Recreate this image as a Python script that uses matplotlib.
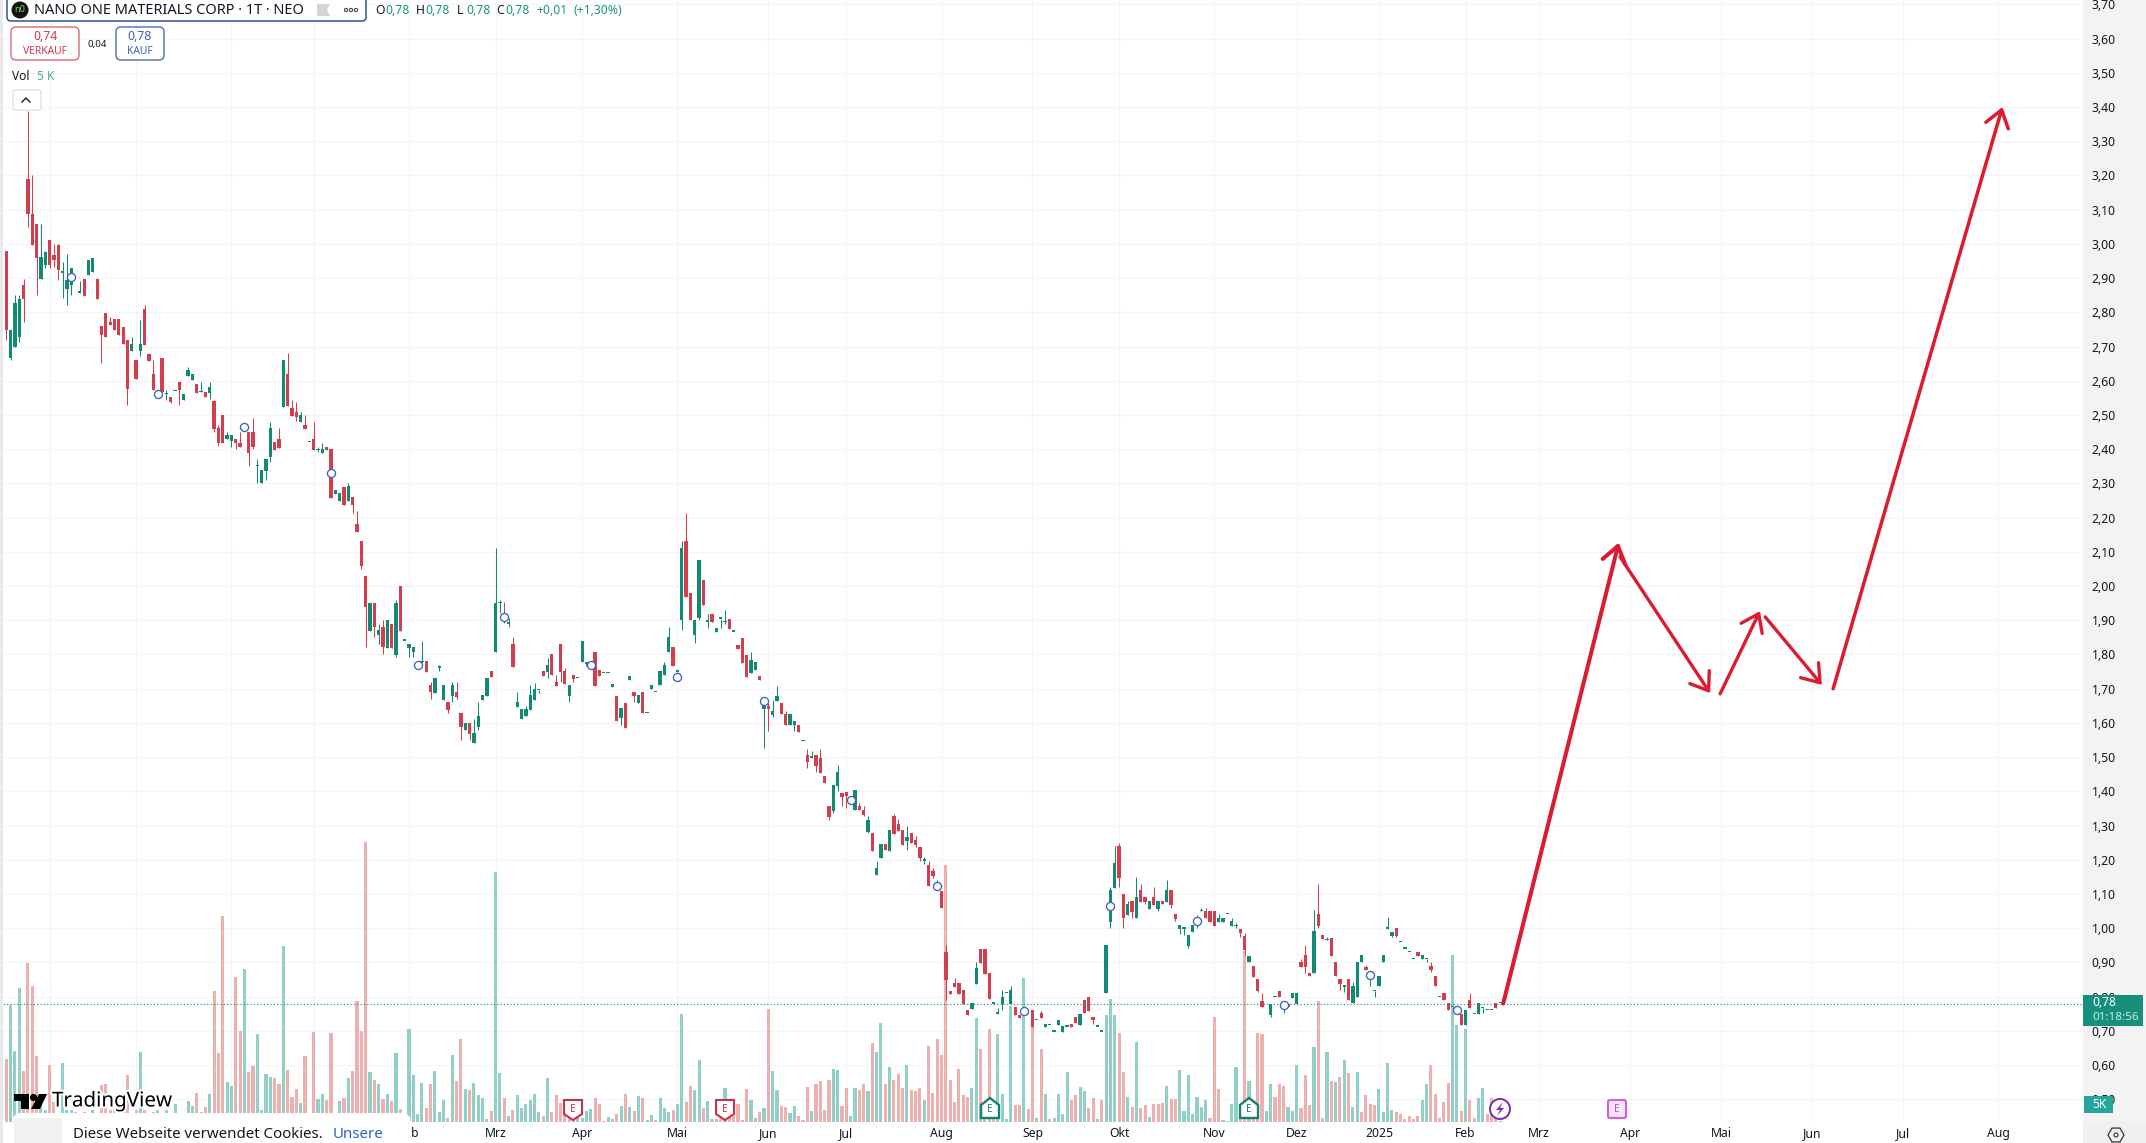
import numpy as np
import matplotlib
matplotlib.use('Agg')
import matplotlib.pyplot as plt
from matplotlib import patheffects
from matplotlib.patches import FancyBboxPatch, Rectangle, Polygon, Circle, RegularPolygon

plt.rcParams['font.family'] = ['Noto Sans', 'DejaVu Sans']

nan = float('nan')

# candles, one entry per trading day
opens = [2.978, 2.665, 2.70, 2.728, 2.879, 3.189, 3.088, 3.059, 2.898, 2.937,
         3.01, 2.966, 2.998, 2.915, 2.869, 2.879, nan, 2.857, 2.898, 2.908,
         2.918, 2.898, 2.759, 2.799, 2.772, 2.781, 2.78, 2.757, 2.718, 2.687,
         2.66, 2.687, 2.809, 2.679, 2.619, 2.56, 2.667, 2.56, 2.553, 2.57,
         2.596, 2.543, 2.613, 2.603, 2.589, 2.567, 2.567, 2.564, 2.541, 2.461,
         2.5, 2.429, 2.425, 2.429, 2.419, 2.464, 2.449, 2.449, 2.35, 2.3,
         2.337, 2.378, 2.42, 2.429, 2.522, 2.619, 2.519, 2.51, 2.478, 2.471,
         2.42, 2.429, 2.397, 2.39, 2.407, 2.4, 2.269, 2.249, 2.289, 2.249,
         2.259, 2.181, 2.132, 2.03, 1.87, 1.95, 1.857, 1.88, 1.82, 1.889,
         1.799, 2.0, 1.84, 1.82, 1.808, 1.768, 1.778, 1.78, 1.71, 1.686,
         1.761, 1.667, 1.66, 1.678, 1.689, 1.628, 1.578, 1.599, 1.541, 1.588,
         1.667, 1.68, 1.752, 1.808, 1.95, 1.91, 1.89, 1.83, 1.647, 1.611,
         1.619, 1.638, 1.667, 1.695, 1.752, 1.748, 1.801, 1.719, 1.83, 1.752,
         1.678, 1.74, 1.73, 1.779, 1.773, 1.768, 1.808, 1.756, 1.746, 1.746,
         1.705, 1.678, 1.615, 1.657, 1.726, 1.689, 1.659, 1.689, 1.628, 1.698,
         1.69, 1.71, 1.739, 1.808, 1.821, 1.75, 1.901, 2.132, 1.979, 1.857,
         1.906, 2.017, 1.896, 1.917, 1.866, 1.905, 1.894, 1.905, 1.867, 1.827,
         1.848, 1.798, 1.746, 1.754, 1.737, 1.64, 1.65, 1.622, 1.664, 1.658,
         1.625, 1.593, 1.593, 1.595, 1.547, 1.505, 1.498, 1.505, 1.498, 1.446,
         1.357, 1.344, 1.415, 1.396, 1.398, 1.376, 1.345, 1.357, 1.347, 1.282,
         1.277, 1.157, 1.206, 1.245, 1.225, 1.327, 1.306, 1.286, 1.254, 1.277,
         1.259, 1.237, 1.197, 1.186, 1.167, 1.125, 1.108, 0.932, 0.818, 0.841,
         0.841, 0.82, 0.761, 0.763, 0.837, 0.939, 0.939, 0.868, 0.78, 0.75,
         0.779, 0.81, 0.779, 0.771, 0.746, 0.759, nan, 0.761, 0.732, 0.751,
         0.71, 0.717, 0.698, 0.717, 0.698, 0.712, 0.72, 0.74, 0.717, 0.79,
         0.798, 0.742, 0.712, 0.698, 0.81, 1.019, 1.118, 1.24, 1.1, 1.039,
         1.08, 1.029, 1.112, 1.09, 1.056, 1.09, 1.056, 1.079, 1.078, 1.112,
         1.041, 0.998, 0.999, 0.949, 0.988, 1.02, 1.049, 1.05, 1.05, 1.05,
         1.019, 1.019, 1.041, 1.007, 1.006, 0.999, 0.978, 0.9, 0.891, 0.852,
         0.788, nan, 0.746, 0.798, 0.818, 0.776, 0.78, 0.797, 0.78, 0.902,
         0.922, 0.869, 0.869, 1.042, 0.981, 0.965, 0.971, 0.901, 0.851, 0.829,
         0.851, 0.781, 0.799, 0.9, 0.888, 0.865, 0.817, 0.83, 0.9, 0.999,
         0.978, 1.0, 0.959, 0.94, 0.93, 0.91, 0.93, 0.91, 0.909, 0.891,
         0.859, 0.799, 0.81, 0.781, 0.77, 0.76, 0.749, 0.718, 0.791, 0.749,
         0.749, 0.767, 0.761, 0.761, 0.781, 0.781]
highs = [2.98, 2.75, 2.85, 2.85, 2.898, 3.387, 3.20, 3.059, 3.059, 2.98,
         3.01, 3.0, 3.0, 2.947, 2.97, 2.93, nan, 2.89, 2.898, 2.952,
         2.96, 2.898, 2.76, 2.799, 2.786, 2.781, 2.78, 2.757, 2.718, 2.728,
         2.66, 2.777, 2.82, 2.679, 2.66, 2.56, 2.667, 2.572, 2.553, 2.57,
         2.596, 2.562, 2.64, 2.619, 2.589, 2.596, 2.567, 2.596, 2.545, 2.471,
         2.5, 2.449, 2.442, 2.429, 2.451, 2.464, 2.449, 2.492, 2.37, 2.339,
         2.37, 2.48, 2.42, 2.461, 2.66, 2.681, 2.545, 2.539, 2.51, 2.5,
         2.42, 2.48, 2.407, 2.419, 2.407, 2.4, 2.281, 2.271, 2.289, 2.302,
         2.259, 2.219, 2.132, 2.03, 1.95, 1.95, 1.889, 1.901, 1.901, 1.889,
         1.96, 2.0, 1.84, 1.83, 1.821, 1.768, 1.84, 1.78, 1.721, 1.73,
         1.77, 1.71, 1.66, 1.72, 1.72, 1.628, 1.599, 1.599, 1.611, 1.662,
         1.682, 1.73, 1.752, 2.111, 1.96, 1.953, 1.908, 1.85, 1.689, 1.64,
         1.65, 1.711, 1.718, 1.696, 1.752, 1.789, 1.801, 1.74, 1.83, 1.76,
         1.71, 1.74, 1.73, 1.84, 1.774, 1.768, 1.808, 1.756, 1.746, 1.746,
         1.715, 1.678, 1.644, 1.657, 1.737, 1.689, 1.682, 1.689, 1.628, 1.71,
         1.69, 1.752, 1.779, 1.881, 1.821, 1.75, 2.132, 2.213, 1.979, 1.901,
         2.076, 2.017, 1.919, 1.917, 1.878, 1.905, 1.929, 1.905, 1.867, 1.827,
         1.848, 1.798, 1.808, 1.778, 1.737, 1.67, 1.659, 1.666, 1.707, 1.658,
         1.636, 1.625, 1.607, 1.595, 1.547, 1.525, 1.519, 1.505, 1.525, 1.446,
         1.357, 1.418, 1.477, 1.396, 1.398, 1.376, 1.405, 1.366, 1.357, 1.327,
         1.277, 1.196, 1.245, 1.245, 1.286, 1.335, 1.318, 1.286, 1.298, 1.277,
         1.269, 1.237, 1.208, 1.196, 1.176, 1.14, 1.108, 0.95, 0.818, 0.854,
         0.841, 0.82, 0.761, 0.781, 0.902, 0.939, 0.939, 0.868, 0.78, 0.766,
         0.82, 0.81, 0.831, 0.771, 0.746, 0.759, nan, 0.761, 0.732, 0.759,
         0.72, 0.717, 0.698, 0.732, 0.714, 0.712, 0.72, 0.74, 0.749, 0.79,
         0.798, 0.742, 0.712, 0.698, 0.951, 1.121, 1.24, 1.248, 1.1, 1.08,
         1.08, 1.151, 1.129, 1.09, 1.079, 1.121, 1.079, 1.079, 1.141, 1.112,
         1.041, 1.009, 1.0, 0.98, 1.009, 1.04, 1.058, 1.058, 1.05, 1.05,
         1.041, 1.029, 1.041, 1.029, 1.014, 0.999, 0.987, 0.92, 0.891, 0.852,
         0.81, nan, 0.78, 0.798, 0.818, 0.776, 0.78, 0.81, 0.81, 0.91,
         0.951, 0.869, 1.052, 1.13, 0.981, 0.974, 0.971, 0.901, 0.851, 0.831,
         0.851, 0.842, 0.901, 0.922, 0.893, 0.865, 0.818, 0.861, 0.922, 1.032,
         0.989, 1.0, 0.959, 0.94, 0.93, 0.91, 0.93, 0.921, 0.91, 0.9,
         0.859, 0.799, 0.81, 0.781, 0.77, 0.76, 0.749, 0.762, 0.81, 0.749,
         0.781, 0.768, 0.761, 0.761, 0.781, 0.781]
lows = [2.718, 2.66, 2.70, 2.713, 2.772, 3.049, 2.996, 2.85, 2.898, 2.93,
        2.93, 2.932, 2.893, 2.843, 2.82, 2.85, nan, 2.855, 2.847, 2.908,
        2.918, 2.838, 2.652, 2.728, 2.762, 2.747, 2.733, 2.708, 2.529, 2.687,
        2.606, 2.671, 2.703, 2.658, 2.572, 2.56, 2.567, 2.543, 2.534, 2.57,
        2.53, 2.543, 2.613, 2.603, 2.564, 2.567, 2.553, 2.548, 2.451, 2.41,
        2.419, 2.429, 2.407, 2.4, 2.407, 2.464, 2.352, 2.4, 2.302, 2.3,
        2.31, 2.362, 2.398, 2.403, 2.522, 2.526, 2.497, 2.481, 2.478, 2.459,
        2.42, 2.398, 2.393, 2.39, 2.398, 2.258, 2.269, 2.249, 2.237, 2.249,
        2.213, 2.159, 2.049, 1.823, 1.87, 1.852, 1.831, 1.802, 1.82, 1.82,
        1.793, 1.87, 1.84, 1.793, 1.793, 1.768, 1.774, 1.75, 1.671, 1.686,
        1.752, 1.667, 1.63, 1.661, 1.67, 1.55, 1.578, 1.55, 1.541, 1.58,
        1.667, 1.68, 1.735, 1.808, 1.92, 1.891, 1.881, 1.763, 1.647, 1.611,
        1.619, 1.638, 1.667, 1.688, 1.738, 1.732, 1.739, 1.708, 1.72, 1.714,
        1.662, 1.72, 1.73, 1.779, 1.765, 1.768, 1.708, 1.737, 1.746, 1.746,
        1.705, 1.605, 1.595, 1.586, 1.726, 1.662, 1.659, 1.628, 1.628, 1.698,
        1.69, 1.71, 1.739, 1.808, 1.767, 1.733, 1.872, 1.969, 1.901, 1.833,
        1.90, 1.944, 1.878, 1.895, 1.866, 1.878, 1.888, 1.875, 1.867, 1.816,
        1.776, 1.734, 1.746, 1.754, 1.725, 1.527, 1.576, 1.617, 1.664, 1.625,
        1.593, 1.593, 1.576, 1.574, 1.547, 1.469, 1.497, 1.457, 1.454, 1.424,
        1.316, 1.337, 1.4, 1.357, 1.35, 1.376, 1.345, 1.345, 1.327, 1.279,
        1.225, 1.157, 1.206, 1.23, 1.225, 1.276, 1.284, 1.243, 1.23, 1.25,
        1.237, 1.196, 1.188, 1.123, 1.147, 1.125, 1.058, 0.79, 0.808, 0.827,
        0.808, 0.78, 0.746, 0.763, 0.837, 0.897, 0.866, 0.792, 0.78, 0.748,
        0.761, 0.81, 0.779, 0.746, 0.739, 0.759, nan, 0.712, 0.732, 0.739,
        0.71, 0.717, 0.698, 0.717, 0.698, 0.712, 0.71, 0.722, 0.717, 0.753,
        0.758, 0.72, 0.712, 0.698, 0.81, 1.0, 1.118, 1.121, 1.0, 1.039,
        1.031, 1.029, 1.078, 1.071, 1.056, 1.068, 1.051, 1.07, 1.078, 1.06,
        1.022, 0.982, 0.98, 0.941, 0.988, 1.0, 1.049, 1.029, 1.019, 1.007,
        1.019, 1.019, 1.041, 1.007, 1.0, 0.973, 0.922, 0.9, 0.858, 0.813,
        0.769, nan, 0.74, 0.798, 0.798, 0.751, 0.769, 0.797, 0.78, 0.888,
        0.87, 0.859, 0.869, 1.002, 0.969, 0.965, 0.92, 0.859, 0.82, 0.813,
        0.789, 0.781, 0.799, 0.9, 0.877, 0.832, 0.8, 0.83, 0.9, 0.999,
        0.973, 0.973, 0.959, 0.94, 0.93, 0.91, 0.92, 0.91, 0.902, 0.871,
        0.83, 0.799, 0.789, 0.76, 0.77, 0.76, 0.718, 0.718, 0.768, 0.749,
        0.749, 0.752, 0.761, 0.761, 0.768, 0.781]
closes = [2.747, 2.749, 2.828, 2.84, 2.84, 3.088, 2.996, 2.96, 2.962, 2.976,
          2.937, 2.952, 2.925, 2.92, 2.893, 2.928, nan, 2.857, 2.847, 2.952,
          2.96, 2.838, 2.735, 2.728, 2.762, 2.747, 2.733, 2.708, 2.577, 2.708,
          2.606, 2.708, 2.703, 2.658, 2.572, 2.56, 2.567, 2.562, 2.538, 2.57,
          2.572, 2.562, 2.632, 2.619, 2.564, 2.567, 2.553, 2.582, 2.458, 2.417,
          2.419, 2.442, 2.442, 2.417, 2.407, 2.464, 2.39, 2.407, 2.351, 2.339,
          2.37, 2.461, 2.398, 2.403, 2.66, 2.526, 2.497, 2.495, 2.5, 2.459,
          2.42, 2.398, 2.398, 2.401, 2.398, 2.258, 2.281, 2.271, 2.237, 2.291,
          2.237, 2.159, 2.059, 1.94, 1.95, 1.881, 1.872, 1.823, 1.901, 1.82,
          1.95, 1.87, 1.84, 1.83, 1.821, 1.768, 1.779, 1.75, 1.689, 1.73,
          1.762, 1.71, 1.638, 1.71, 1.676, 1.589, 1.599, 1.567, 1.572, 1.619,
          1.682, 1.73, 1.735, 1.95, 1.952, 1.905, 1.891, 1.763, 1.66, 1.64,
          1.64, 1.682, 1.699, 1.696, 1.738, 1.77, 1.739, 1.708, 1.75, 1.714,
          1.71, 1.728, 1.73, 1.84, 1.774, 1.768, 1.708, 1.737, 1.746, 1.746,
          1.715, 1.605, 1.644, 1.586, 1.737, 1.679, 1.682, 1.628, 1.628, 1.71,
          1.69, 1.752, 1.77, 1.85, 1.767, 1.75, 2.11, 1.969, 1.901, 1.901,
          2.076, 1.944, 1.897, 1.895, 1.878, 1.905, 1.895, 1.875, 1.867, 1.816,
          1.776, 1.734, 1.785, 1.778, 1.725, 1.665, 1.64, 1.636, 1.68, 1.625,
          1.593, 1.625, 1.607, 1.574, 1.547, 1.486, 1.498, 1.474, 1.454, 1.424,
          1.325, 1.418, 1.456, 1.384, 1.386, 1.376, 1.405, 1.345, 1.332, 1.316,
          1.225, 1.175, 1.245, 1.23, 1.286, 1.276, 1.284, 1.243, 1.266, 1.25,
          1.243, 1.206, 1.198, 1.123, 1.152, 1.125, 1.058, 0.849, 0.808, 0.827,
          0.808, 0.78, 0.746, 0.781, 0.883, 0.897, 0.866, 0.792, 0.78, 0.751,
          0.8, 0.81, 0.82, 0.746, 0.739, 0.759, nan, 0.712, 0.732, 0.739,
          0.72, 0.717, 0.698, 0.732, 0.714, 0.712, 0.71, 0.722, 0.749, 0.753,
          0.758, 0.732, 0.712, 0.698, 0.951, 1.112, 1.191, 1.146, 1.029, 1.071,
          1.048, 1.09, 1.078, 1.078, 1.079, 1.068, 1.079, 1.07, 1.112, 1.068,
          1.027, 1.009, 1.0, 0.98, 1.009, 1.02, 1.05, 1.029, 1.019, 1.007,
          1.029, 1.029, 1.041, 1.021, 1.007, 0.987, 0.936, 0.92, 0.858, 0.818,
          0.769, nan, 0.78, 0.798, 0.798, 0.776, 0.769, 0.81, 0.81, 0.888,
          0.888, 0.859, 0.991, 1.007, 0.969, 0.966, 0.92, 0.859, 0.838, 0.83,
          0.789, 0.832, 0.901, 0.922, 0.877, 0.865, 0.818, 0.861, 0.922, 1.0,
          0.989, 0.978, 0.959, 0.94, 0.93, 0.91, 0.92, 0.921, 0.91, 0.879,
          0.83, 0.799, 0.789, 0.76, 0.77, 0.76, 0.718, 0.762, 0.768, 0.749,
          0.781, 0.768, 0.761, 0.761, 0.768, 0.781]

# volume in thousands
volumes = [18.4, 34.3, 20.8, 39.5, 14.9, 46.8, 39.9, 19.3, 8.3, 3.4,
           16.7, 5.9, 2.5, 17.5, 3.4, 3.6, 3.0, 2.5, 3.0, 2.5,
           3.4, 2.5, 10.8, 11.3, 3.4, 3.4, 2.5, 3.4, 13.7, 2.5,
           3.4, 20.5, 3.4, 2.5, 3.0, 3.4, 2.5, 3.4, 2.5, 5.2,
           2.5, 2.5, 6.1, 4.6, 8.6, 2.9, 4.4, 8.1, 38.4, 20.3,
           60.6, 11.7, 10.5, 42.6, 26.7, 44.9, 14.7, 16.4, 25.8, 3.6,
           14.0, 13.1, 12.8, 11.1, 51.7, 15.2, 7.5, 9.6, 5.6, 19.3,
           2.5, 26.4, 6.9, 8.1, 6.4, 26.2, 2.5, 6.1, 7.0, 12.8,
           14.9, 35.5, 26.8, 82.5, 14.6, 12.5, 11.1, 6.7, 8.1, 6.1,
           20.2, 3.7, 1.0, 27.3, 13.7, 2.3, 11.4, 4.0, 11.1, 14.9,
           2.8, 6.4, 1.3, 19.6, 12.0, 24.3, 9.6, 9.3, 11.4, 7.8,
           7.0, 0.8, 3.1, 73.4, 14.3, 7.0, 1.7, 3.4, 7.8, 4.0,
           5.4, 6.4, 8.3, 2.8, 1.7, 12.8, 2.8, 7.8, 5.7, 4.4,
           3.4, 2.5, 1.5, 1.2, 3.1, 3.7, 7.2, 5.4, 0.3, 1.6,
           0.8, 2.3, 4.6, 8.3, 4.4, 3.1, 7.7, 7.2, 0.5, 2.2,
           0.5, 7.2, 4.2, 2.9, 3.6, 5.2, 31.9, 5.8, 10.5, 9.3,
           18.1, 4.2, 6.1, 0.9, 0.9, 1.3, 9.9, 2.5, 1.7, 5.2,
           0.7, 9.8, 6.4, 1.3, 2.9, 4.0, 33.1, 14.9, 9.3, 4.6,
           4.4, 2.6, 4.6, 1.7, 0.5, 10.2, 3.1, 11.1, 12.0, 3.4,
           12.3, 15.7, 15.2, 4.6, 9.9, 1.7, 10.1, 9.3, 11.1, 9.0,
           23.1, 20.5, 29.2, 11.3, 16.2, 12.3, 14.0, 10.1, 16.7, 9.3,
           9.1, 10.1, 6.4, 22.5, 8.5, 24.5, 19.6, 75.5, 12.5, 5.9,
           15.5, 7.8, 7.4, 9.9, 30.5, 21.4, 5.9, 27.5, 2.5, 25.8,
           8.3, 0.9, 34.0, 4.9, 4.9, 42.3, 3.8, 32.8, 1.1, 21.4,
           8.3, 0.9, 1.1, 8.3, 2.3, 14.6, 6.4, 7.8, 10.3, 9.1,
           4.2, 7.2, 0.9, 6.4, 31.5, 36.1, 31.5, 26.1, 14.8, 7.5,
           4.4, 23.4, 4.2, 4.9, 1.5, 5.2, 5.4, 5.6, 10.5, 6.9,
           6.7, 15.4, 3.2, 13.7, 2.5, 7.5, 4.4, 6.4, 1.3, 30.9,
           9.8, 0.5, 0.3, 5.4, 16.2, 5.4, 50.2, 12.0, 6.4, 26.3,
           25.8, 3.2, 11.3, 7.4, 11.1, 10.5, 4.4, 3.2, 16.7, 4.2,
           13.7, 4.9, 22.1, 35.6, 1.2, 20.7, 12.1, 11.8, 13.2, 18.1,
           14.5, 4.4, 14.6, 2.9, 7.8, 5.4, 4.9, 9.8, 2.9, 17.4,
           3.4, 2.9, 2.5, 1.0, 1.7, 0.9, 1.7, 6.4, 11.1, 16.7,
           8.3, 1.2, 5.9, 11.5, 49.0, 28.5, 3.3, 27.4, 6.5, 1.2,
           7.0, 9.9, 2.5, 7.0, 1.6, 0.3]
vol_dirs = ('rgggrrrrgg' 'rrrgggrrrg' 'grrrrrrrrg' 'rgrrrgrgrg' 'rgggrgrgrr'
            'rggrrgrrgg' 'ggrrgrrrgr' 'grggrrggrg' 'rrrrgrgrgr' 'grrggggrrg'
            'ggrgrrgrgg' 'ggrggrgrgg' 'ggggrgrrrr' 'rgggggrrrg' 'grgrgrgrgg'
            'rgggrggrrg' 'grgrgrgrrr' 'rrggrgrggr' 'rggrrrgrrr' 'rggrrggrrg'
            'rggrgrrrgr' 'rrgrrrrrrr' 'rrrggrgrrg' 'gggrrgrrgr' 'grggggrrgg'
            'rrgrgggrrg' 'rgrrgrrrgr' 'rgggggggrr' 'rggggrrgrr' 'rggrrrgggr'
            'rrgrrgrgrg' 'rggrrrrggg' 'grrrrrrggr' 'rrrrggrgrr' 'ggrrrg')

# month starts, as bar numbers; the first four sit behind the cookie banner
month_bars = [10, 30, 52, 71, 93, 113, 133, 155, 176, 194, 216, 237, 257, 279, 298, 317, 337,
              354, 375, 396, 417, 438, 460]
month_names = ['', '', '', '', 'Feb', 'Mrz', 'Apr', 'Mai', 'Jun', 'Jul', 'Aug', 'Sep',
               'Okt', 'Nov', 'Dez', '2025', 'Feb', 'Mrz', 'Apr', 'Mai', 'Jun', 'Jul', 'Aug']
price_ticks = [round(0.5 + 0.1 * k, 1) for k in range(33)]
last_price = 0.78

# dividend circles
marker_bars = [15, 35, 55, 75, 95, 115, 135, 155, 175, 195, 215, 235, 255, 275, 295, 315, 335]
marker_prices = [2.903, 2.56, 2.464, 2.33, 1.768, 1.909, 1.768, 1.733, 1.665, 1.375, 1.123,
                 0.759, 1.064, 1.02, 0.776, 0.864, 0.76]

# hand drawn forecast arrows
arrow_x0 = [345.7, 372.7, 395.8, 406.2, 421.9]
arrow_y0 = [0.78, 2.085, 1.685, 1.91, 1.70]
arrow_x1 = [372.4, 393.5, 405.0, 419.3, 461.0]
arrow_y1 = [2.127, 1.687, 1.927, 1.711, 3.40]

UP = '#118a73'
DOWN = '#d43d4d'
VOL_UP = '#92cfc6'
VOL_DOWN = '#ecb0ae'
GRID = '#f3f4f6'
ARROW = '#dc1a30'
TEXT = '#131722'

W, H = 2146, 1143
fig = plt.figure(figsize=(W / 100, H / 100), dpi=100, facecolor='#f3f3f3')
fig.add_artist(Rectangle((0, 0), 1, 21 / H, transform=fig.transFigure, facecolor='white',
                         edgecolor='none', zorder=-5))

rect = [0, 21 / H, 2083 / W, 1122 / H]
xlim = (-1.44, 479.6)
ylim = (0.4338, 3.7126)

# three layers: grid, volume, candles
ax_bg = fig.add_axes(rect, zorder=1, facecolor='white')
ax_bg.set_xlim(xlim)
ax_bg.set_ylim(ylim)
ax_bg.set_xticks(month_bars)
ax_bg.set_yticks(price_ticks)
ax_bg.grid(True, color=GRID, lw=0.8)
ax_bg.set_axisbelow(True)
ax_bg.tick_params(length=0, labelleft=False, labelbottom=False)
for s in ax_bg.spines.values():
    s.set_visible(False)

ax_vol = fig.add_axes(rect, zorder=2, facecolor='none')
ax_vol.set_xlim(xlim)
ax_vol.set_ylim(0, 1122 / 3.4)
ax_vol.axis('off')
bars = np.arange(len(opens))
ax_vol.bar(bars, volumes, width=0.72, color=[VOL_UP if d == 'g' else VOL_DOWN for d in vol_dirs])

ax = fig.add_axes(rect, zorder=3, facecolor='none')
ax.set_xlim(xlim)
ax.set_ylim(ylim)
for s in ax.spines.values():
    s.set_visible(False)

o = np.array(opens)
c = np.array(closes)
colors = [UP if cc >= oo or np.isnan(oo) else DOWN for oo, cc in zip(o, c)]
ax.vlines(bars, lows, highs, colors=colors, lw=0.75)
ax.bar(bars, np.maximum(np.abs(c - o), 0.004), bottom=np.minimum(o, c), width=0.76, color=colors)
ax.scatter(marker_bars, marker_prices, s=34, facecolor='white', edgecolor='#3f60bd', lw=0.95, zorder=4)
ax.axhline(last_price, color=UP, lw=0.8, ls=(0, (1, 2)), zorder=1)

for x0, y0, x1, y1, lw in zip(arrow_x0, arrow_y0, arrow_x1, arrow_y1, [2.9, 2.4, 2.4, 2.4, 2.5]):
    ax.annotate('', xy=(x1, y1), xytext=(x0, y0),
                arrowprops=dict(arrowstyle='->,head_length=0.42,head_width=0.3', color=ARROW, lw=lw,
                                shrinkA=0, shrinkB=0, mutation_scale=28, capstyle='round'))

ax.set_xticks(month_bars)
ax.set_xticklabels(month_names, fontsize=8.8, color=TEXT)
for lab in ax.get_xticklabels():
    if lab.get_text() == '2025':
        lab.set_fontweight('bold')
ax.yaxis.tick_right()
ax.set_yticks(price_ticks)
ax.set_yticklabels([f'{p:.2f}'.replace('.', ',') for p in price_ticks], fontsize=8.8, color=TEXT)
ax.tick_params(axis='y', length=0, pad=6.2)
ax.tick_params(axis='x', length=0, pad=3.5)

# chart furniture on a pixel overlay
ui = fig.add_axes([0, 0, 1, 1], zorder=10, facecolor='none')
ui.set_xlim(0, W)
ui.set_ylim(H, 0)
ui.axis('off')


def box(x0, y0, x1, y1, fc='white', ec='none', lw=1.0, r=3):
    ui.add_patch(FancyBboxPatch((x0, y0), x1 - x0, y1 - y0, boxstyle=f'round,pad=0,rounding_size={r}',
                                facecolor=fc, edgecolor=ec, lw=lw))


def label(x, y, s, color=TEXT, size=8.8, ha='left', **kw):
    ui.text(x, y, s, color=color, fontsize=size, ha=ha, va='center', **kw)


ui.add_patch(Rectangle((0, 0), 3, 1143, facecolor='#e9e9ea', edgecolor='none'))

# header
box(7, -8, 366, 21, ec='#2e5496', lw=1.1, r=4)
ui.add_patch(Circle((20, 10), 8.5, facecolor='#131313', edgecolor='none'))
label(20, 10, 'n0', color='#7ed957', size=6.5, ha='center')
label(34, 10, 'NANO ONE MATERIALS CORP · 1T · NEO', size=10.5)
ui.add_patch(Polygon([(317, 4), (330, 4), (327, 10), (330, 16), (317, 16)], facecolor='#d4d4d6', edgecolor='none'))
for xd in (346, 351, 356):
    ui.add_patch(Circle((xd, 10), 1.6, facecolor='white', edgecolor='#444444', lw=0.8))
teal = '#22937f'
for xl, ch, xv in [(375, 'O', 385), (416, 'H', 425), (457, 'L', 466), (496, 'C', 505)]:
    label(xl, 10, ch)
    label(xv, 10, '0,78', color=teal)
label(536, 10, '+0,01', color=teal)
label(573, 10, '(+1,30%)', color=teal)

# buy and sell buttons
box(11, 27, 79, 60, ec='#d66a75', lw=1.0, r=5)
label(45, 37, '0,74', color='#cf3b4a', size=8.8, ha='center', fontweight='medium')
label(45, 51, 'VERKAUF', color='#cf3b4a', size=7.4, ha='center')
label(88, 44, '0,04', size=7)
box(116, 27, 164, 60, ec='#4a6cb0', lw=1.0, r=5)
label(140, 37, '0,78', color='#3a5fc0', size=8.8, ha='center', fontweight='medium')
label(140, 51, 'KAUF', color='#3a5fc0', size=7.4, ha='center')

label(12, 77, 'Vol', size=8.6)
label(37, 77, '5 K', color='#4fa89b', size=8.6)
box(13, 90, 41, 110, ec='#dcdcdc', lw=0.8, r=2)
ui.plot([22, 26, 30], [102, 98, 102], color=TEXT, lw=1.0)

# price labels on the axis
ui.add_patch(Rectangle((2083, 995), 60, 31, facecolor='#16907b', edgecolor='none'))
label(2092, 1003, '0,78', color='white', size=8.6, fontweight='bold')
label(2092, 1017, '01:18:56', color='#c5ebe4', size=8.4)
ui.add_patch(Rectangle((2084, 1096), 29, 17, facecolor='#26a69a', edgecolor='none'))
label(2092, 1104.5, '5K', color='white', size=8.6, fontweight='bold')

# settings corner
ui.add_patch(Rectangle((2083, 1122), 63, 21, facecolor='#f0f0f0', edgecolor='none'))
ui.add_patch(RegularPolygon((2116, 1135), 6, radius=8, orientation=np.pi / 2, facecolor='none', edgecolor='#333333', lw=0.9))
ui.add_patch(Circle((2116, 1135), 2, facecolor='none', edgecolor='#333333', lw=0.8))

# event flags
for xf in (573, 725):
    ui.add_patch(Polygon([(xf - 9, 1100), (xf + 9, 1100), (xf + 9, 1114), (xf, 1120), (xf - 9, 1114)],
                         facecolor='white', edgecolor='#c9304a', lw=1.5))
    label(xf, 1109, 'E', color='#c9304a', size=7.2, ha='center')
for xf in (990, 1249):
    ui.add_patch(Polygon([(xf - 9, 1105), (xf, 1098), (xf + 9, 1105), (xf + 9, 1118), (xf - 9, 1118)],
                         facecolor='white', edgecolor='#14806e', lw=1.7))
    label(xf, 1110, 'E', color='#14806e', size=7.2, ha='center')
ui.add_patch(Circle((1500, 1109), 10, facecolor='white', edgecolor='#7b2d9c', lw=1.4))
ui.add_patch(Polygon([(1503, 1102), (1496, 1110), (1500, 1110), (1497, 1116), (1504, 1108), (1500, 1108)],
                     facecolor='#7b2d9c', edgecolor='none'))
box(1608, 1100, 1626, 1118, fc='#f6e6f8', ec='#cf5fdc', lw=1.5, r=2)
label(1617, 1109, 'E', color='#b84cc6', size=7.2, ha='center')

# watermark and cookie banner
ui.add_patch(Polygon([(14, 1094), (29, 1094), (29, 1109), (21, 1109), (21, 1101), (14, 1101)], facecolor='black', edgecolor='none'))
ui.add_patch(Circle((33.5, 1097.5), 3.6, facecolor='black', edgecolor='none'))
ui.add_patch(Polygon([(39, 1094), (47, 1094), (40, 1109), (31, 1109)], facecolor='black', edgecolor='none'))
ui.text(52, 1101.5, 'TradingView', color='black', fontsize=14.8, fontweight='bold', va='center', ha='left',
        path_effects=[patheffects.withStroke(linewidth=3, foreground='white')])
box(12, 1113, 411, 1160, fc='white', r=10)
ui.add_patch(Rectangle((14, 1118), 48, 25, facecolor='#f1f1f1', edgecolor='none'))
label(73, 1135, 'Diese Webseite verwendet Cookies.', size=10.8)
label(333, 1135, 'Unsere', color='#2f5fc4', size=10.8)

fig.savefig('out.png', dpi=100)
